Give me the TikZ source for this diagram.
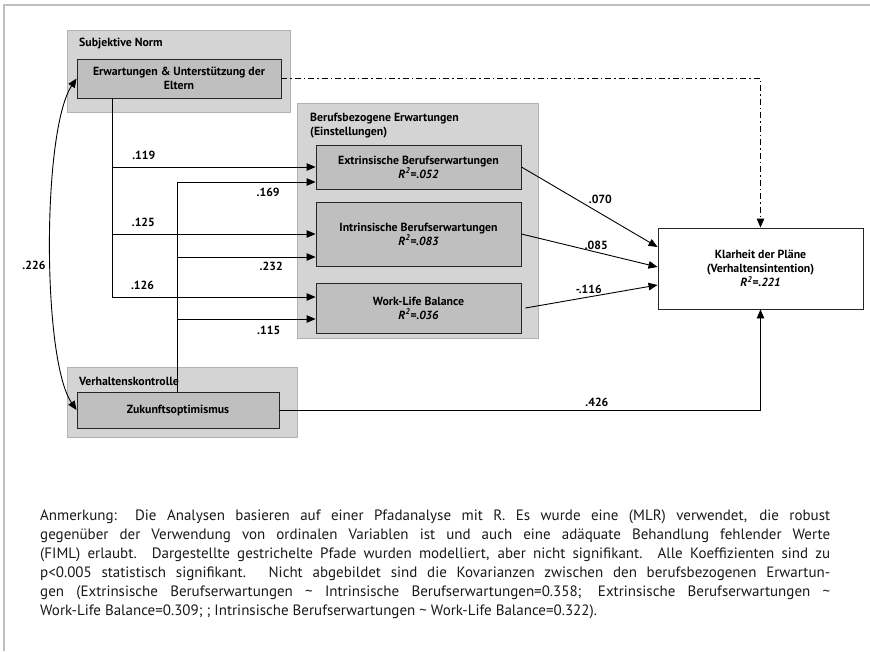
\documentclass[tikz,border=0pt]{standalone}
\usepackage{fontspec}
\setmainfont{PT Sans}
\usetikzlibrary{arrows.meta}
\newcommand{\labelFont}{\fontsize{11.8}{14.2}\selectfont\bfseries}
\tikzstyle{groupStyle}=[shape = rectangle, draw = gray!60, fill = gray!34, line width = 0.8pt]
\tikzstyle{boxStyle}=[shape = rectangle, draw = black!85, fill = gray!50, line width = 0.9pt, align = center, font = \labelFont, inner sep = 2pt]

\begin{document}
\begin{tikzpicture}[x = 1pt, y = -1pt]
\tikzstyle{pathStyle} = [-{Triangle[length=9pt, width=7.5pt]}, line width = 0.9pt]
\tikzstyle{dashStyle} = [pathStyle, dash pattern = on 6pt off 3pt on 1.5pt off 3pt]
\tikzstyle{coefStyle} = [font = \labelFont, inner sep = 0pt]
\tikzstyle{headStyle} = [font = \labelFont, inner sep = 0pt, anchor = west, align = left]
\useasboundingbox (0,0) rectangle (870,651);
\draw[gray!50, line width = 1.2pt] (870,5) -- (4,5) -- (4,651);
% Gruppen
\node[groupStyle, minimum width = 223pt, minimum height = 82pt] (g0) at (178.5,71) {};
\node[groupStyle, minimum width = 241pt, minimum height = 235pt] (g1) at (417.5,220.5) {};
\node[groupStyle, minimum width = 230pt, minimum height = 70pt] (g2) at (182,402) {};
\node[headStyle] (h0) at (79,44) {Subjektive Norm};
\node[headStyle] (h1) at (310,125.5) {Berufsbezogene Erwartungen\\(Einstellungen)};
\node[headStyle] (h2) at (79,381) {Verhaltenskontrolle};
% Variablen
\node[boxStyle, minimum width = 204pt, minimum height = 39pt] (eltern) at (179,78.5) {Erwartungen \& Unterstützung der\\Eltern};
\node[boxStyle, minimum width = 205pt, minimum height = 44pt] (extr) at (418.5,167) {Extrinsische Berufserwartungen\\\textit{R\textsuperscript{2}=.052}};
\node[boxStyle, minimum width = 205pt, minimum height = 64pt] (intr) at (418.5,234) {Intrinsische Berufserwartungen\\\textit{R\textsuperscript{2}=.083}};
\node[boxStyle, minimum width = 205pt, minimum height = 50pt] (wlb) at (418.5,308) {Work-Life Balance\\\textit{R\textsuperscript{2}=.036}};
\node[boxStyle, minimum width = 202pt, minimum height = 36pt] (zukunft) at (178,410) {Zukunftsoptimismus};
\node[boxStyle, fill = white, minimum width = 205pt, minimum height = 81pt] (klarheit) at (760.5,268.5) {Klarheit der Pläne\\(Verhaltensintention)\\\textit{R\textsuperscript{2}=.221}};
\coordinate (elX) at (112,0);
\coordinate (zuX) at (177,0);
% Pfade
\draw[pathStyle] (eltern.south -| elX) |- (extr.west) node[coefStyle, pos = 0.578, above = 6.5pt] {.119};
\draw[pathStyle] (eltern.south -| elX) |- (intr.west) node[coefStyle, pos = 0.577, above = 7pt] {.125};
\draw[pathStyle] (eltern.south -| elX) |- ([yshift = 11pt]wlb.west) node[coefStyle, pos = 0.575, above = 6.5pt] {.126};
\draw[pathStyle] (zukunft.north -| zuX) |- ([yshift = -15pt]extr.west) node[coefStyle, pos = 0.829, below = 6pt] {.169};
\draw[pathStyle] (zukunft.north -| zuX) |- ([yshift = -23pt]intr.west) node[coefStyle, pos = 0.84, below = 5pt] {.232};
\draw[pathStyle] (zukunft.north -| zuX) |- ([yshift = -11pt]wlb.west) node[coefStyle, pos = 0.831, below = 6.5pt] {.115};
\draw[pathStyle] (extr.east) -- ([yshift = 21.5pt]klarheit.west) node[coefStyle, pos = 0.58, above = 9.5pt] {.070};
\draw[pathStyle] (intr.east) -- ([yshift = 1.5pt]klarheit.west) node[coefStyle, pos = 0.55, above = 2.5pt] {.085};
\draw[pathStyle] ([xshift = 4pt]wlb.east) -- ([yshift = -16.5pt]klarheit.west) node[coefStyle, pos = 0.48, above = 2.5pt] {-.116};
\draw[pathStyle] (zukunft.east) -| (klarheit.south) node[coefStyle, pos = 0.33, above = 2.5pt] {.426};
\draw[dashStyle] (eltern.east) -| (klarheit.north);
\draw[{Triangle[length=9pt, width=7.5pt]}-{Triangle[length=9pt, width=7.5pt]}, line width = 0.9pt] (eltern.west) .. controls (42,130) and (42,360) .. (zukunft.west) node[coefStyle, pos = 0.55, left = 5pt] {.226};
% Anmerkung
\node[anchor = north west, inner sep = 0pt, align = left, font = \fontsize{15}{19}\selectfont, text = black!90] (note) at (40,510) {%
\makebox[790pt][s]{Anmerkung: Die Analysen basieren auf einer Pfadanalyse mit R. Es wurde eine (MLR) verwendet, die robust}\\
\makebox[790pt][s]{gegenüber der Verwendung von ordinalen Variablen ist und auch eine adäquate Behandlung fehlender Werte}\\
\makebox[790pt][s]{(FIML) erlaubt. Dargestellte gestrichelte Pfade wurden modelliert, aber nicht signifikant. Alle Koeffizienten sind zu}\\
\makebox[790pt][s]{p<0.005 statistisch signifikant. Nicht abgebildet sind die Kovarianzen zwischen den berufsbezogenen Erwartun-}\\
\makebox[790pt][s]{gen (Extrinsische Berufserwartungen \textasciitilde{} Intrinsische Berufserwartungen=0.358; Extrinsische Berufserwartungen \textasciitilde}\\
Work-Life Balance=0.309; ; Intrinsische Berufserwartungen \textasciitilde{} Work-Life Balance=0.322).};
\end{tikzpicture}
\end{document}
